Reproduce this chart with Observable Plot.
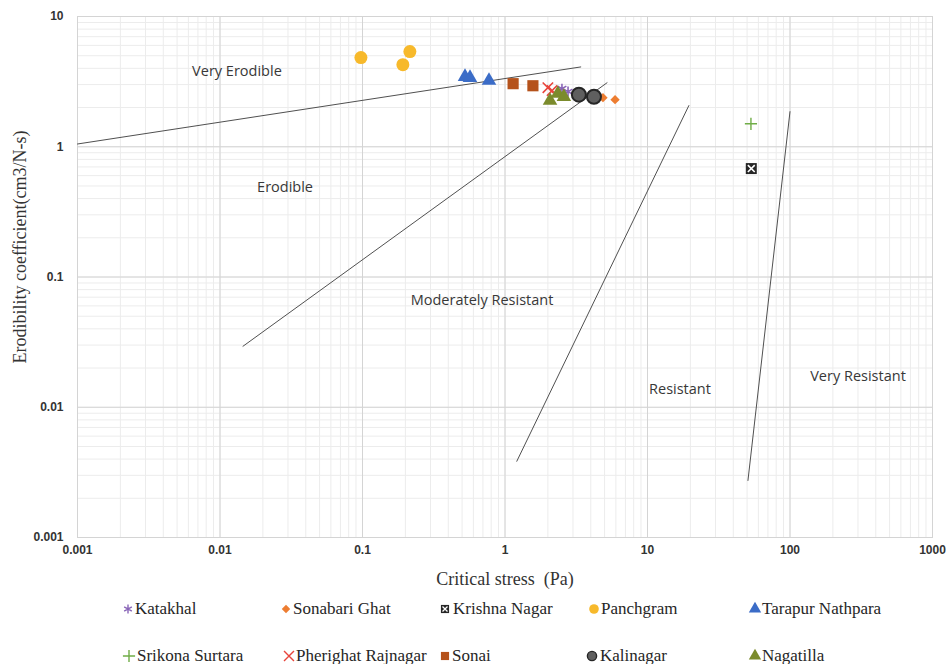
<!DOCTYPE html>
<html><head><meta charset="utf-8">
<script src="https://cdn.jsdelivr.net/npm/d3@7"></script>
<script src="https://cdn.jsdelivr.net/npm/@observablehq/plot@0.6"></script>
<style>
body{margin:0;background:#fff;}
#wrap{position:relative;width:946px;height:664px;overflow:hidden;}
.lm{position:absolute;}
</style></head><body><div id="wrap"></div>
<script>
// ---- data ----
const xTicks = [0.001, 0.01, 0.1, 1, 10, 100, 1000];
const yTicks = [0.001, 0.01, 0.1, 1, 10];

const names = ["Katakhal","Sonabari Ghat","Krishna Nagar","Panchgram","Tarapur Nathpara",
               "Srikona Surtara","Pherighat Rajnagar","Sonai","Kalinagar","Nagatilla"];
const katakhalX = [2.51, 2.77],        katakhalY = [2.79, 2.65];
const sonabariX = [4.5, 4.87, 5.92],   sonabariY = [2.42, 2.38, 2.30];
const krishnaX  = [53.5],              krishnaY  = [0.68];
const panchgramX = [0.0975, 0.215, 0.192], panchgramY = [4.84, 5.38, 4.27];
const tarapurX  = [0.524, 0.568, 0.772], tarapurY = [3.45, 3.39, 3.22];
const srikonaX  = [53.2],              srikonaY  = [1.50];
const pherighatX = [2.0, 2.14],        pherighatY = [2.84, 2.70];
const sonaiX    = [1.14, 1.57],        sonaiY    = [3.05, 2.94];
const kalinagarX = [3.30, 4.21],       kalinagarY = [2.51, 2.42];
const nagatillaX = [2.07, 2.35, 2.59], nagatillaY = [2.26, 2.56, 2.42];

// class boundary lines
const line1X = [0.001, 3.4],  line1Y = [1.05, 4.1];
const line2X = [0.0145, 5.2], line2Y = [0.0294, 3.1];
const line3X = [1.21, 19.5],  line3Y = [0.00385, 2.07];
const line4X = [50.7, 100],   line4Y = [0.00274, 1.86];

const regionNames = ["Very Erodible","Erodible","Moderately Resistant","Resistant","Very Resistant"];
const regionX = [0.01315, 0.0286, 0.69, 16.9, 300];
const regionY = [3.78, 0.492, 0.0665, 0.01375, 0.0173];

const xTitle = "Critical stress  (Pa)";
const yTitle = "Erodibility coefficient(cm3/N-s)";

// ---- build tables ----
const xsAll = [katakhalX, sonabariX, krishnaX, panchgramX, tarapurX, srikonaX, pherighatX, sonaiX, kalinagarX, nagatillaX];
const ysAll = [katakhalY, sonabariY, krishnaY, panchgramY, tarapurY, srikonaY, pherighatY, sonaiY, kalinagarY, nagatillaY];
const points = names.flatMap((n, i) => xsAll[i].map((x, j) => ({name: n, x, y: ysAll[i][j]})));
const lines = [[line1X, line1Y], [line2X, line2Y], [line3X, line3Y], [line4X, line4Y]]
  .flatMap(([lx, ly], k) => lx.map((x, j) => ({k, x, y: ly[j]})));
const regions = regionNames.map((t, i) => ({t, x: regionX[i], y: regionY[i]}));

// ---- styles ----
const st = {
  "Katakhal":          {symbol: "asterisk", stroke: "#8a66b8", r: 4.8, sw: 1.6, lr: 4.2},
  "Sonabari Ghat":     {symbol: "diamond2", fill: "#ed7d31", r: 4.2, lr: 3.8},
  "Krishna Nagar":     {symbol: "square", fill: "#262626", r: 6.2, lr: 4.6, cross: true},
  "Panchgram":         {symbol: "circle", fill: "#f7b92b", r: 6.5, lr: 4.8},
  "Tarapur Nathpara":  {symbol: "triangle", fill: "#3b6cc7", r: 5.4, lr: 4.6},
  "Srikona Surtara":   {symbol: "plus", stroke: "#70ad47", r: 4.0, sw: 1.4, lr: 4.0},
  "Pherighat Rajnagar":{symbol: "times", stroke: "#e8453c", r: 4.8, sw: 1.6, lr: 4.6},
  "Sonai":             {symbol: "square", fill: "#b5521b", r: 6.3, lr: 4.6},
  "Kalinagar":         {symbol: "circle", fill: "#5f5f5f", stroke: "#262626", sw: 2, r: 7, lr: 4.6},
  "Nagatilla":         {symbol: "triangle", fill: "#7b8b2c", r: 5.4, lr: 4.6}
};

const minorX = d3.scaleLog().domain([0.001, 1000]).ticks(20);
const minorY = d3.scaleLog().domain([0.001, 10]).ticks(20);

const dotMarks = names.flatMap(n => {
  const s = st[n];
  const data = points.filter(p => p.name === n);
  const m = [Plot.dot(data, {x: "x", y: "y", symbol: s.symbol, r: s.r,
    fill: s.fill || "none", stroke: s.stroke || "none", strokeWidth: s.sw || 1})];
  if (s.cross) m.push(Plot.dot(data, {x: "x", y: "y", symbol: "times", r: 3.2, stroke: "white", strokeWidth: 1.6}));
  return m;
});

const chart = Plot.plot({
  width: 946, height: 592,
  marginLeft: 77, marginRight: 14, marginTop: 16, marginBottom: 55,
  x: {type: "log", domain: [0.001, 1000]},
  y: {type: "log", domain: [0.001, 10]},
  style: {fontFamily: "'Liberation Sans', Arial, sans-serif", background: "white", color: "#333"},
  marks: [
    Plot.ruleX(minorX, {stroke: "#ececec"}),
    Plot.ruleY(minorY, {stroke: "#ececec"}),
    Plot.ruleX(xTicks, {stroke: "#d4d4d4"}),
    Plot.ruleY(yTicks, {stroke: "#d4d4d4"}),
    Plot.frame({stroke: "#d4d4d4"}),
    Plot.axisX(xTicks, {tickSize: 0, tickPadding: 8, tickFormat: d => String(d), label: null,
      fontWeight: "bold", fontSize: 12, fill: "#333"}),
    Plot.axisY(yTicks, {tickSize: 0, tickPadding: 14, tickFormat: d => String(d), label: null,
      fontWeight: "bold", fontSize: 12, fill: "#333"}),
    Plot.line(lines, {x: "x", y: "y", z: "k", stroke: "#505050", strokeWidth: 1}),
    Plot.text(regions, {x: "x", y: "y", text: "t", fontFamily: "'Open Sans', sans-serif", fontSize: 14.5, fill: "#383838"}),
    Plot.text([xTitle], {frameAnchor: "bottom", dy: 42, lineAnchor: "middle", textAnchor: "middle",
      fontFamily: "'Liberation Serif', serif", fontSize: 18, fill: "#333"}),
    Plot.text([yTitle], {frameAnchor: "left", dx: -57, dy: -30, rotate: -90, lineAnchor: "middle", textAnchor: "middle",
      fontFamily: "'Liberation Serif', serif", fontSize: 18, fill: "#333"}),
    ...dotMarks
  ]
});
const wrap = document.getElementById("wrap");
wrap.appendChild(chart);

// ---- legend (HTML, below the svg) ----
const legendPos = {
  "Katakhal": [128, 135, 609], "Sonabari Ghat": [286, 293, 609], "Krishna Nagar": [445, 453, 609],
  "Panchgram": [594, 601, 609], "Tarapur Nathpara": [755, 762, 609],
  "Srikona Surtara": [129, 137, 656], "Pherighat Rajnagar": [289, 296, 656], "Sonai": [445, 452, 656],
  "Kalinagar": [592, 600, 656], "Nagatilla": [755, 762, 656]
};
const symMap = {asterisk: d3.symbolAsterisk, diamond2: d3.symbolDiamond2, square: d3.symbolSquare,
  circle: d3.symbolCircle, triangle: d3.symbolTriangle, plus: d3.symbolPlus, times: d3.symbolTimes};
names.forEach(n => {
  const s = st[n];
  const [mx, tx, ry] = legendPos[n];
  const ns = "http://www.w3.org/2000/svg";
  const svg = document.createElementNS(ns, "svg");
  svg.setAttribute("width", 16); svg.setAttribute("height", 16);
  svg.setAttribute("class", "lm");
  svg.style.left = (mx - 8) + "px"; svg.style.top = (ry - 8) + "px";
  const g = document.createElementNS(ns, "g");
  g.setAttribute("transform", "translate(8,8)");
  const p = document.createElementNS(ns, "path");
  p.setAttribute("d", d3.symbol(symMap[s.symbol], Math.PI * s.lr * s.lr)());
  p.setAttribute("fill", s.fill || "none");
  p.setAttribute("stroke", s.stroke || "none");
  p.setAttribute("stroke-width", s.sw ? Math.min(s.sw, 1.4) : 1);
  g.appendChild(p);
  if (s.cross) {
    const q = document.createElementNS(ns, "path");
    q.setAttribute("d", d3.symbol(d3.symbolTimes, Math.PI * 2.4 * 2.4)());
    q.setAttribute("fill", "none"); q.setAttribute("stroke", "white"); q.setAttribute("stroke-width", 1.3);
    g.appendChild(q);
  }
  svg.appendChild(g);
  wrap.appendChild(svg);
  const t = document.createElement("div");
  t.textContent = n;
  Object.assign(t.style, {
    position: "absolute", left: tx + "px", top: (ry - 8) + "px",
    fontFamily: "'Liberation Serif', 'Times New Roman', serif", fontSize: "17px",
    lineHeight: "16px", color: "#262626", whiteSpace: "nowrap"
  });
  wrap.appendChild(t);
});
</script>
</body></html>
